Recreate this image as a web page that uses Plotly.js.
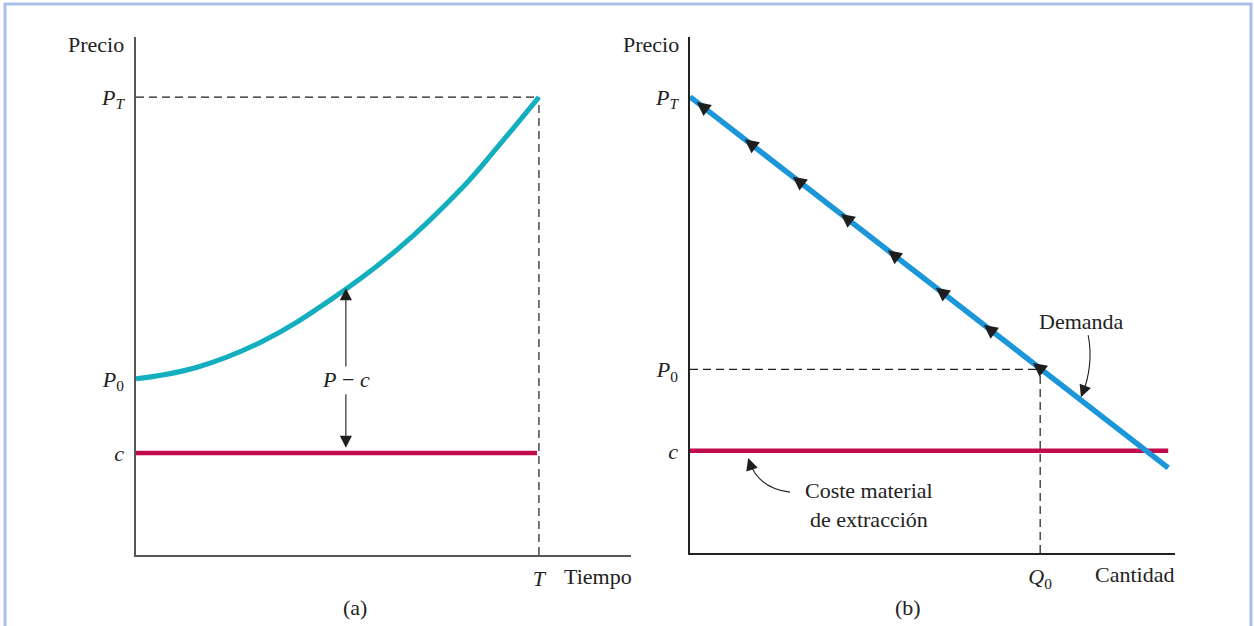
<!DOCTYPE html>
<html><head><meta charset="utf-8">
<script src="https://cdn.plot.ly/plotly-3.0.1.min.js"></script>
<style>html,body{margin:0;padding:0;background:#fff}#chart{width:1254px;height:626px}</style>
</head><body><div id="chart"></div>
<script>
// ---------- Panel (a): price path over time ----------
const timeA  = [0, 1.22, 2.57, 3.92, 5.27, 6.61, 7.29, 8.14];
const priceA = [3.40, 3.62, 4.13, 4.92, 5.89, 7.11, 7.86, 8.84];
const T_A = 8.14, PT_A = 8.84, P0_A = 3.40, C_A = 1.97;
const costEndA = 8.10;
const yTickValsA = [C_A, P0_A, PT_A];
const yTickTextA = ['<i>c</i>', '<i>P</i><sub>0</sub>', '<i>P</i><sub><i>T</i></sub>'];
const xTickValsA = [T_A];
const xTickTextA = ['<i>T</i>'];

// ---------- Panel (b): demand and extraction cost ----------
const demandQ = [0, 9.86];
const demandP = [8.84, 1.65];
const C_B = 1.98, P0_B = 3.56, Q0_B = 7.22, PT_B = 8.84;
const costQ = [0, 9.86];
const arrowQ = [0.14, 1.13, 2.12, 3.11, 4.08, 5.07, 6.06, 7.07];
const yTickValsB = [C_B, P0_B, PT_B];
const yTickTextB = ['<i>c</i>', '<i>P</i><sub>0</sub>', '<i>P</i><sub><i>T</i></sub>'];
const xTickValsB = [Q0_B];
const xTickTextB = ['<i>Q</i><sub>0</sub>'];

const SERIF = 'Liberation Serif, Times New Roman, serif';
const TEAL = '#14afbf', BLUE = '#1b96d8', RED = '#c20b4c', INK = '#1e1e1e';

function demandAt(q){
  const t = (q - demandQ[0]) / (demandQ[1] - demandQ[0]);
  return demandP[0] + t * (demandP[1] - demandP[0]);
}

const dash = {color: INK, width: 1.2, dash: '8px,5px'};
const traces = [
  // panel a
  {x:[0, T_A], y:[PT_A, PT_A], xaxis:'x', yaxis:'y', mode:'lines', line:dash},
  {x:[T_A, T_A], y:[0, PT_A], xaxis:'x', yaxis:'y', mode:'lines', line:dash},
  {x:[0, costEndA], y:[C_A, C_A], xaxis:'x', yaxis:'y', mode:'lines', line:{color:RED, width:4.5}},
  {x:timeA, y:priceA, xaxis:'x', yaxis:'y', mode:'lines', line:{color:TEAL, width:5, shape:'spline', smoothing:1.1}},
  // panel b
  {x:[0, Q0_B], y:[P0_B, P0_B], xaxis:'x2', yaxis:'y2', mode:'lines', line:dash},
  {x:[Q0_B, Q0_B], y:[0, P0_B], xaxis:'x2', yaxis:'y2', mode:'lines', line:dash},
  {x:costQ, y:[C_B, C_B], xaxis:'x2', yaxis:'y2', mode:'lines', line:{color:RED, width:4.5}},
  {x:demandQ, y:demandP, xaxis:'x2', yaxis:'y2', mode:'lines', line:{color:BLUE, width:5.5}}
];

const tickFont = {family: SERIF, size: 22, color: '#222'};
function xAx(domain, vals, text, lc){
  return {domain, range:[0,10], autorange:false, fixedrange:true, showgrid:false, zeroline:false,
    showline:true, linecolor:lc, linewidth:1.6, ticks:'', tickvals:vals, ticktext:text,
    tickfont:tickFont, ticklabelstandoff:3};
}
function yAx(domain, anchor, vals, text, lc){
  return {domain, anchor, range:[0,10], autorange:false, fixedrange:true, showgrid:false, zeroline:false,
    showline:true, linecolor:lc, linewidth:1.6, ticks:'', tickvals:vals, ticktext:text,
    tickfont:tickFont, ticklabelstandoff:6};
}

const W = 1254, H = 626;
const px = v => v / W, py = v => 1 - v / H;
const txt = {family: SERIF, size: 22, color: '#222'};
const C = {xanchor:'center', yanchor:'middle', showarrow:false, font:txt};
const HEAD = {text:'', showarrow:true, arrowhead:2, arrowsize:2.2, arrowwidth:1.1, arrowcolor:INK};

const annotations = [
  Object.assign({xref:'paper', yref:'paper', x:px(96), y:py(45), text:'Precio'}, C),
  Object.assign({xref:'paper', yref:'paper', x:px(598), y:py(576), text:'Tiempo'}, C),
  Object.assign({xref:'paper', yref:'paper', x:px(355), y:py(607), text:'(a)'}, C),
  Object.assign({xref:'paper', yref:'paper', x:px(651), y:py(45), text:'Precio'}, C),
  Object.assign({xref:'paper', yref:'paper', x:px(1134), y:py(574), text:'Cantidad'}, C),
  Object.assign({xref:'paper', yref:'paper', x:px(908), y:py(607), text:'(b)'}, C),
  // P - c label and arrows
  Object.assign({xref:'x', yref:'y', x:4.24, y:3.38, text:'<i>P</i> − <i>c</i>'}, C),
  Object.assign({xref:'x', yref:'y', x:4.24, y:5.15, axref:'x', ayref:'y', ax:4.24, ay:3.61}, HEAD),
  Object.assign({xref:'x', yref:'y', x:4.24, y:2.07, axref:'x', ayref:'y', ax:4.24, ay:3.13}, HEAD),
  // Demanda label
  Object.assign({xref:'x2', yref:'y2', x:8.07, y:4.48, text:'Demanda'}, C),
  Object.assign({xref:'x2', yref:'y2', x:8.06, y:3.02, ax:4.8, ay:-12.4}, HEAD),
  // Coste label
  Object.assign({xref:'x2', yref:'y2', x:3.70, y:0.94, text:'Coste material<br>de extracción', align:'center'}, C),
  Object.assign({xref:'x2', yref:'y2', x:1.20, y:1.84, ax:4, ay:12}, HEAD)
];
// direction arrows along the demand line
arrowQ.forEach(q => annotations.push(Object.assign({xref:'x2', yref:'y2', x:q, y:demandAt(q), ax:12, ay:9.3},
  HEAD, {arrowsize:2.5})));

const shapes = [
  {type:'rect', xref:'paper', yref:'paper', x0:px(5), x1:px(1251), y0:-0.1, y1:py(4),
   line:{color:'#a9bfe9', width:3}, fillcolor:'rgba(0,0,0,0)'},
  {type:'path', xref:'x2', yref:'y2', path:'M 8.21,4.22 Q 8.33,3.64 8.08,3.05', line:{color:INK, width:1.1}},
  {type:'path', xref:'x2', yref:'y2', path:'M 2.06,1.18 Q 1.40,1.26 1.22,1.78', line:{color:INK, width:1.1}}
];

const layout = {
  width: W, height: H, margin:{l:0, r:0, t:0, b:0},
  paper_bgcolor:'#fff', plot_bgcolor:'rgba(0,0,0,0)', showlegend:false,
  xaxis: xAx([136/W, 631/W], xTickValsA, xTickTextA, '#555'),
  yaxis: yAx([(H-555)/H, (H-37)/H], 'x', yTickValsA, yTickTextA, '#555'),
  xaxis2: Object.assign(xAx([690/W, 1175/W], xTickValsB, xTickTextB, '#222'), {anchor:'y2'}),
  yaxis2: yAx([(H-553)/H, (H-37)/H], 'x2', yTickValsB, yTickTextB, '#222'),
  annotations, shapes
};
layout.xaxis.anchor = 'y';

Plotly.newPlot('chart', traces, layout, {displayModeBar:false, staticPlot:true});
</script></body></html>
